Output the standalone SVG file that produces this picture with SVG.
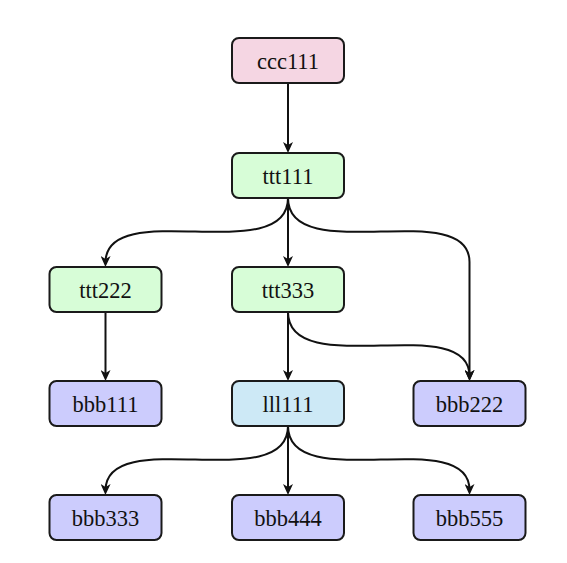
<svg xmlns="http://www.w3.org/2000/svg" width="567" height="563" viewBox="0 0 567 563">
<style>
.box{stroke:#1a1a1a;stroke-width:2}
.lbl{font-family:"Liberation Serif","DejaVu Serif",serif;font-size:22.5px;text-anchor:middle;fill:#111}
.edge{fill:none;stroke:#111;stroke-width:2}
.pink{fill:#f5d6e3}
.green{fill:#d7fdd7}
.blue{fill:#ccccfd}
.cyan{fill:#cde9f6}
</style>
<defs>
<marker id="arr" viewBox="0 0 11 10" refX="6" refY="5" markerWidth="11" markerHeight="10" markerUnits="userSpaceOnUse" orient="auto">
<path d="M0,0 L11,5 L0,10 L3,5 Z" fill="#111"/>
</marker>
</defs>
<rect width="567" height="563" fill="#fff"/>
<g id="edges">
<path class="edge" marker-end="url(#arr)" d="M288,83 V148"/>
<path class="edge" marker-end="url(#arr)" d="M288,198 C288,268 106.5,196 105.5,262"/>
<path class="edge" marker-end="url(#arr)" d="M288,198 V262"/>
<path class="edge" marker-end="url(#arr)" d="M288,198 C288,268 469.5,196 469.5,262 V376"/>
<path class="edge" marker-end="url(#arr)" d="M105.5,312 V376"/>
<path class="edge" marker-end="url(#arr)" d="M288,312 V376"/>
<path class="edge" marker-end="url(#arr)" d="M288,312 C288,382 469.5,310 469.5,376"/>
<path class="edge" marker-end="url(#arr)" d="M288,426 C288,496 106.5,424 105.5,490"/>
<path class="edge" marker-end="url(#arr)" d="M288,426 V490"/>
<path class="edge" marker-end="url(#arr)" d="M288,426 C288,496 469.5,424 469.5,490"/>
</g>
<g id="ccc111"><rect class="box pink" x="232" y="38" width="112" height="45" rx="7"/><text class="lbl" x="288" y="68.5">ccc111</text></g>
<g id="ttt111"><rect class="box green" x="232" y="153" width="112" height="45" rx="7"/><text class="lbl" x="288" y="183.5">ttt111</text></g>
<g id="ttt222"><rect class="box green" x="49.5" y="267" width="112" height="45" rx="7"/><text class="lbl" x="105.5" y="297.5">ttt222</text></g>
<g id="ttt333"><rect class="box green" x="232" y="267" width="112" height="45" rx="7"/><text class="lbl" x="288" y="297.5">ttt333</text></g>
<g id="bbb111"><rect class="box blue" x="49.5" y="381" width="112" height="45" rx="7"/><text class="lbl" x="105.5" y="411.5">bbb111</text></g>
<g id="lll111"><rect class="box cyan" x="232" y="381" width="112" height="45" rx="7"/><text class="lbl" x="288" y="411.5">lll111</text></g>
<g id="bbb222"><rect class="box blue" x="413.5" y="381" width="112" height="45" rx="7"/><text class="lbl" x="469.5" y="411.5">bbb222</text></g>
<g id="bbb333"><rect class="box blue" x="49.5" y="495" width="112" height="45" rx="7"/><text class="lbl" x="105.5" y="525.5">bbb333</text></g>
<g id="bbb444"><rect class="box blue" x="232" y="495" width="112" height="45" rx="7"/><text class="lbl" x="288" y="525.5">bbb444</text></g>
<g id="bbb555"><rect class="box blue" x="413.5" y="495" width="112" height="45" rx="7"/><text class="lbl" x="469.5" y="525.5">bbb555</text></g>
</svg>
